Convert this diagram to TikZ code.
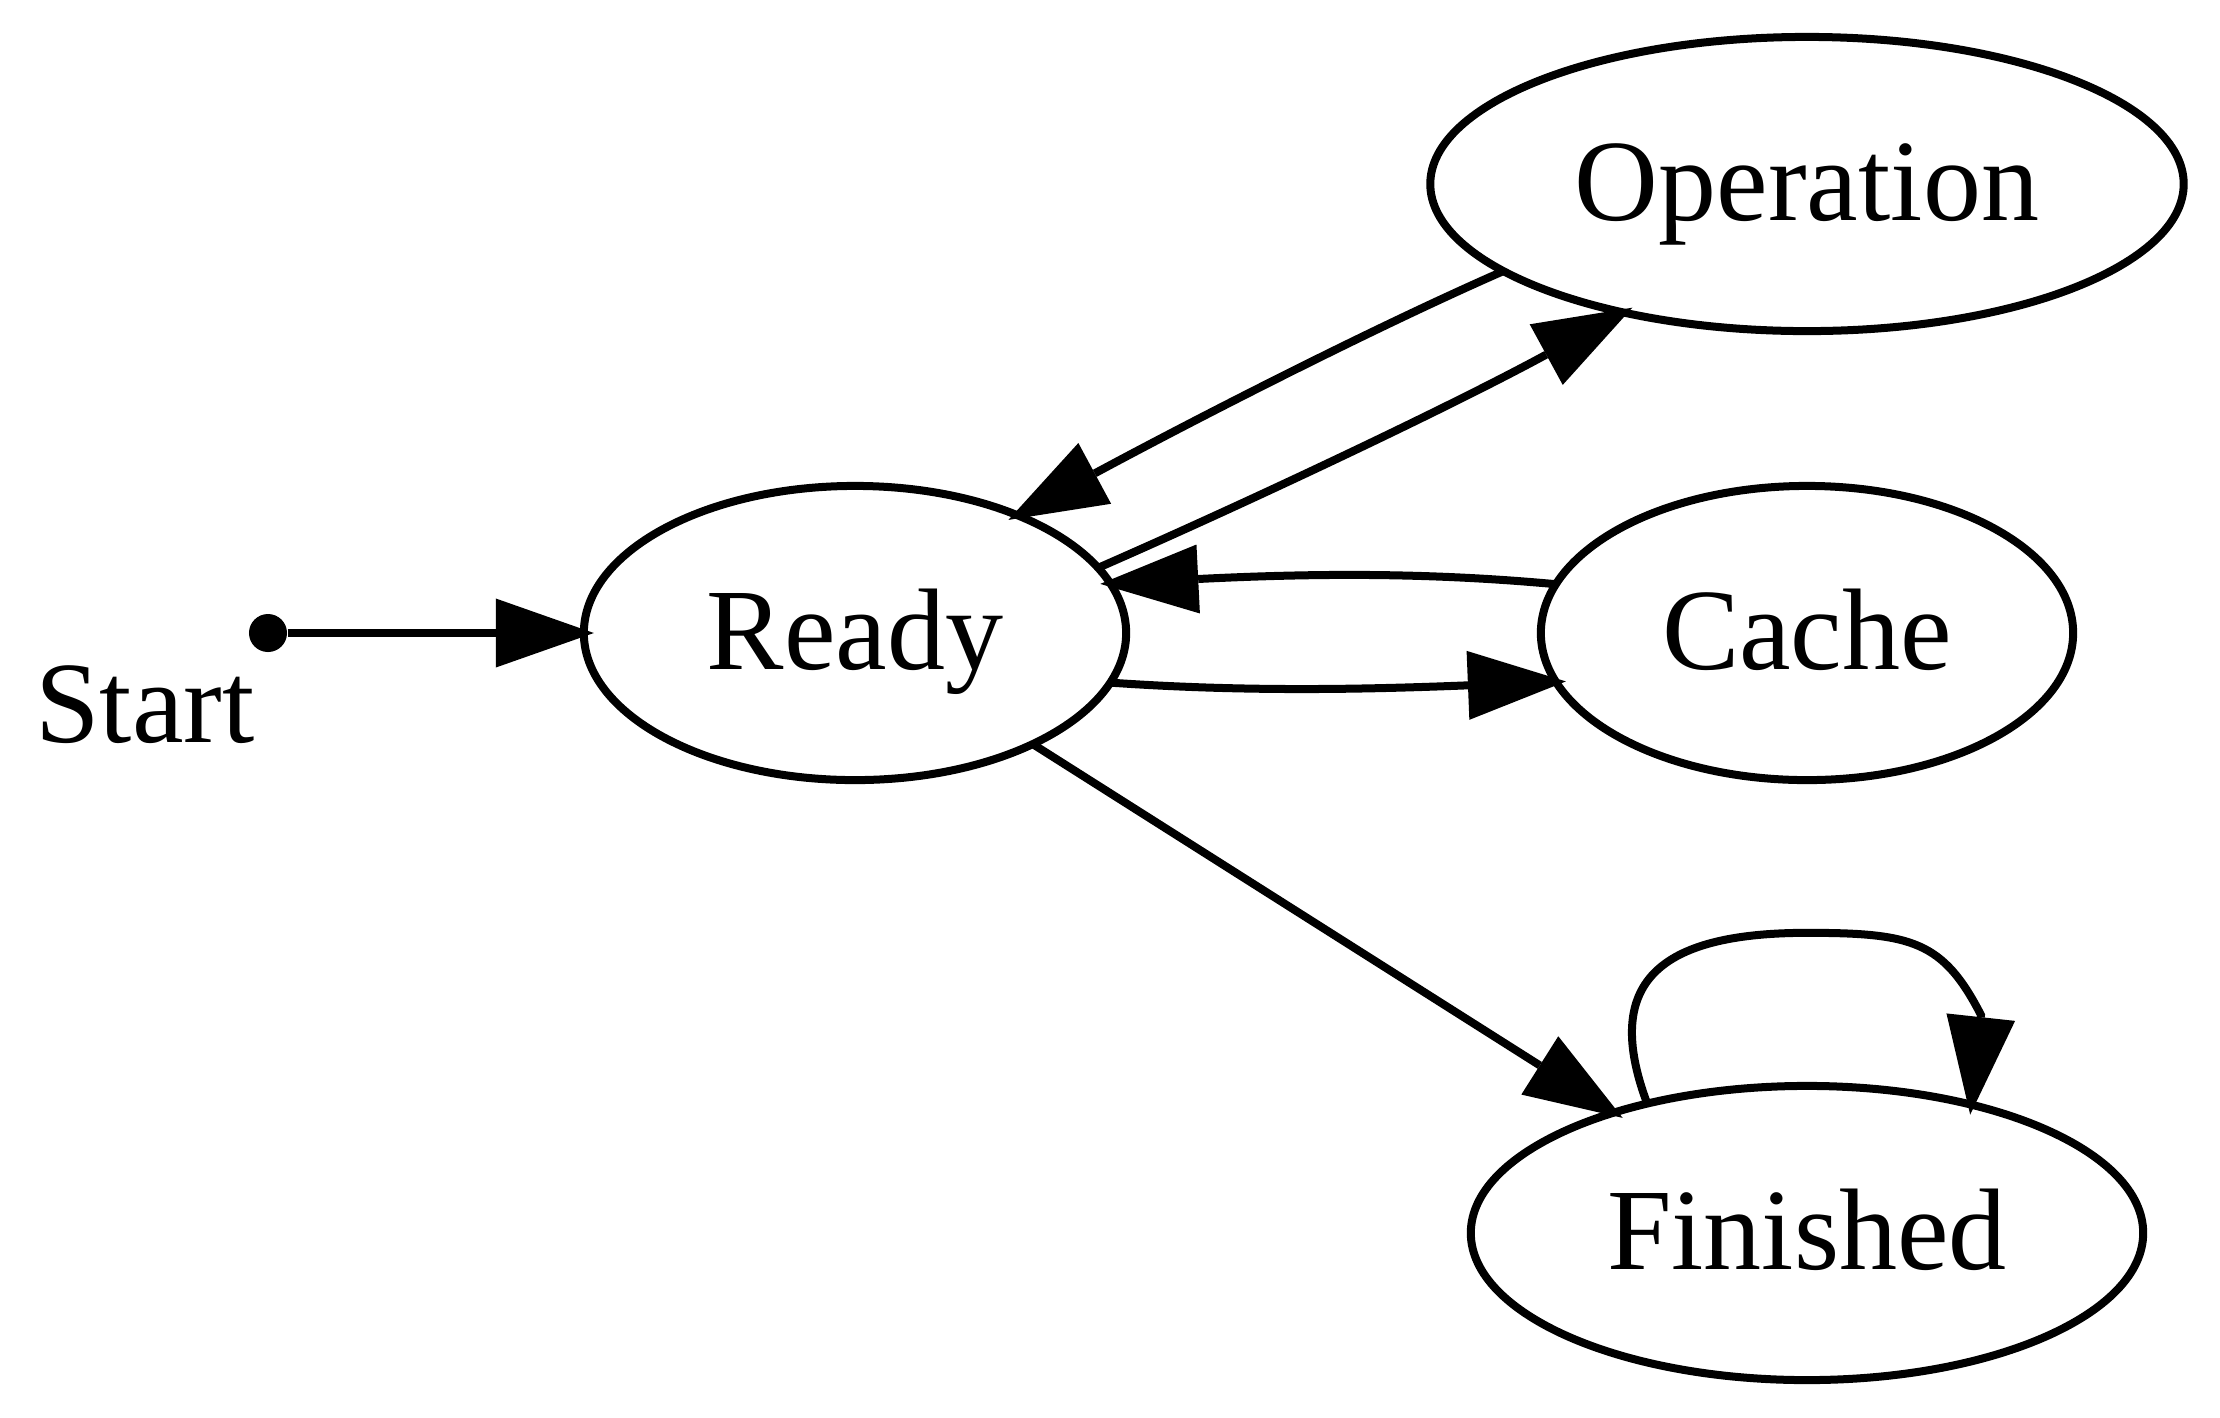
\documentclass[tikz,border=0pt]{standalone}
\usepackage{fontspec}
\setmainfont{Liberation Serif}
\usetikzlibrary{shapes.geometric,arrows.meta}
\begin{document}
\begin{tikzpicture}[x=0.01cm,y=-0.01cm,
  state/.style={draw, ellipse, line width=0.08cm, inner sep=0pt, outer sep=0pt,
    minimum height=2.94cm, text height=0.8cm, text depth=0.08cm,
    font=\fontsize{33}{40}\selectfont},
  conn/.style={line width=0.08cm, -{Triangle[length=0.98cm,width=0.69cm,line width=0pt]},
    shorten >=-0.1cm},
  lbl/.style={inner sep=0pt, text height=0.8cm, text depth=0.08cm,
    font=\fontsize{33}{40}\selectfont}]
\useasboundingbox (0,0) rectangle (2220,1417);
\node[state, minimum width=5.42cm] (ready) at (855,633) {Ready};
\node[state, minimum width=7.53cm] (op) at (1807,184) {Operation};
\node[state, minimum width=5.32cm] (cache) at (1807,633) {Cache};
\node[state, minimum width=6.72cm] (fin) at (1807,1233) {Finished};
\node[circle, fill, inner sep=0pt, minimum size=0.38cm] (start) at (268,633) {};
\node[lbl] (startlbl) at (145,706) {Start};
\draw[conn] (start) -- (ready.180);
\draw[conn] (op.196.2) .. controls +(-137,60) and +(167,-90) .. (ready.36.2);
\draw[conn] (ready.15.1) .. controls +(160,-70) and +(-167,91) .. (op.215.5);
\draw[conn] (cache.169.6) .. controls +(-130,-12) and +(200,-10) .. (ready.11.1);
\draw[conn] (ready.349.2) .. controls +(130,9) and +(-200,8) .. (cache.191.3);
\draw[conn] (ready.328.2) -- (fin.148.7);
\draw[conn] (fin.141.2) .. controls +(-45,-120) and +(-150,0) .. ([yshift=1.53cm]fin.north)
  .. controls +(105,0) and +(-38,-74) .. ([shift={(174,-218)}]fin.center) -- (fin.38.8);
\end{tikzpicture}
\end{document}
